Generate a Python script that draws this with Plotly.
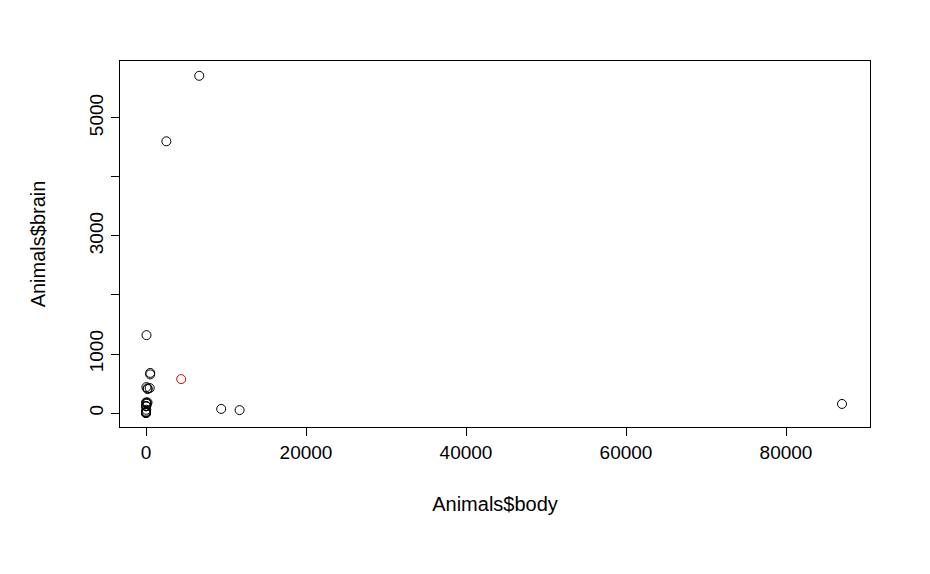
import plotly.graph_objects as go

# MASS::Animals
body = [1.35, 465, 36.33, 27.66, 1.04, 11700, 2547, 187.1, 521, 10, 3.3, 529, 207, 62,
        6654, 9400, 6.8, 35, 0.12, 0.023, 2.5, 55.5, 100, 52.16, 0.28, 87000, 0.122, 192]
brain = [8.1, 423, 119.5, 115, 5.5, 50, 4603, 419, 655, 115, 25.6, 680, 406, 1320,
         5712, 70, 179, 56, 1, 0.4, 12.1, 175, 157, 440, 1.9, 154.5, 3, 180]
new_body = [4400]
new_brain = [575]

xticks = [0, 20000, 40000, 60000, 80000]
yticks = [0, 1000, 2000, 3000, 4000, 5000]
ylabels = ["0", "1000", "", "3000", "", "5000"]

fig = go.Figure()
fig.add_trace(go.Scatter(x=body, y=brain, mode="markers",
                         marker=dict(symbol="circle-open", size=9, color="black", line=dict(width=1))))
fig.add_trace(go.Scatter(x=new_body, y=new_brain, mode="markers",
                         marker=dict(symbol="circle-open", size=9, color="#dd0000", line=dict(width=1))))

axis_common = dict(showgrid=False, zeroline=False, showline=True, mirror=True, linecolor="black",
                   ticks="outside", ticklen=8, tickcolor="black",
                   tickfont=dict(size=19, color="black"))
fig.update_xaxes(range=[-3250, 90500], tickvals=xticks, ticktext=[str(v) for v in xticks],
                 title=dict(text="Animals$body", font=dict(size=20, color="black"), standoff=35),
                 **axis_common)
fig.update_yaxes(range=[-236, 5963], tickvals=yticks, ticktext=ylabels, tickangle=-90,
                 title=dict(text="Animals$brain", font=dict(size=20, color="black"), standoff=35),
                 **axis_common)
fig.update_layout(width=930, height=574, showlegend=False, plot_bgcolor="white",
                  paper_bgcolor="white", margin=dict(l=112, r=68, t=53, b=155),
                  font=dict(family="Liberation Sans, Arial, sans-serif"))
fig.write_html("out.html")
